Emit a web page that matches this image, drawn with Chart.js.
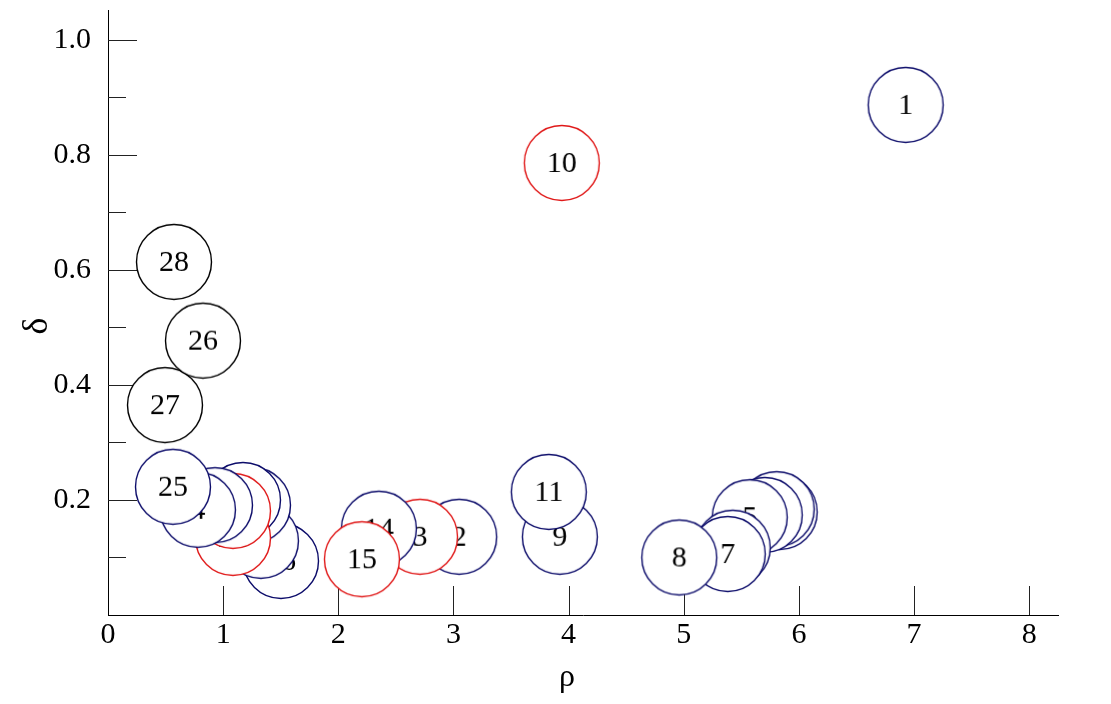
<!DOCTYPE html>
<html>
<head>
<meta charset="utf-8">
<script src="https://cdn.jsdelivr.net/npm/chart.js@4.4.1/dist/chart.umd.min.js"></script>
<style>
  html, body { margin: 0; padding: 0; background: #fff; }
</style>
</head>
<body>
<canvas id="chart" width="1111" height="704"></canvas>
<script>
// decision graph, one labelled circle per sample, listed in drawing order
var ids   = ['27', '26', '28', '10', '1', '16', '24', '6', '19', '20', '21', '22', '23', '4', '25',
             '2', '3', '14', '15', '9', '11', '12', '13', '18', '5', '17', '7', '8'];
var rho   = [0.495, 0.825, 0.573, 3.941, 6.927, 1.502, 1.25, 1.328, 1.259, 1.172, 1.085, 1.085, 0.929, 0.781, 0.564,
             3.05, 2.71, 2.352, 2.205, 3.924, 3.828, 5.833, 5.807, 5.703, 5.573, 5.425, 5.382, 4.961];
var delta = [0.365, 0.477, 0.614, 0.786, 0.887, 0.094, 0.19, 0.129, 0.191, 0.200, 0.134, 0.181, 0.191, 0.183, 0.223,
             0.136, 0.136, 0.150, 0.097, 0.136, 0.214, 0.179, 0.184, 0.174, 0.170, 0.117, 0.106, 0.100];
// k = unassigned, r = centre, b = member
var kind  = ['k', 'k', 'k', 'r', 'b', 'b', 'b', 'b', 'b', 'b', 'r', 'r', 'b', 'b', 'b',
             'b', 'r', 'b', 'r', 'b', 'b', 'b', 'b', 'b', 'b', 'b', 'b', 'b'];

var xTicks = [1, 2, 3, 4, 5, 6, 7, 8];
var yMajor = [0.2, 0.4, 0.6, 0.8, 1.0];
var yMinor = [0.1, 0.3, 0.5, 0.7, 0.9];

var ringColor = { k: '#000000', r: '#e01818', b: '#0c0c6a' };
var serif = 'Liberation Serif';

// each point is drawn as a small canvas: white disc, coloured ring, number
function bubble(label, color) {
  var c = document.createElement('canvas');
  c.width = 80;
  c.height = 80;
  var g = c.getContext('2d');
  g.beginPath();
  g.arc(40, 40, 37.5, 0, Math.PI * 2);
  g.fillStyle = '#fff';
  g.fill();
  g.lineWidth = 1.4;
  g.strokeStyle = color;
  g.stroke();
  g.fillStyle = '#000';
  g.font = '30px "' + serif + '"';
  g.textAlign = 'center';
  g.textBaseline = 'middle';
  g.fillText(label, 40, 41);
  return c;
}

var points = [];
var styles = [];
ids.forEach((id, i) => {
  points.push({ x: rho[i], y: delta[i] });
  styles.push(bubble(id, ringColor[kind[i]]));
});

// tick marks point into the plot, drawn under the circles
var innerTicks = {
  id: 'innerTicks',
  beforeDatasetsDraw: function(chart) {
    var ctx = chart.ctx;
    var x = chart.scales.x, y = chart.scales.y, area = chart.chartArea;
    ctx.save();
    ctx.strokeStyle = '#222';
    ctx.lineWidth = 1;
    ctx.beginPath();
    xTicks.forEach(v => {
      var px = Math.round(x.getPixelForValue(v)) + 0.5;
      ctx.moveTo(px, area.bottom);
      ctx.lineTo(px, area.bottom - 29);
    });
    yMajor.forEach(v => {
      var py = Math.round(y.getPixelForValue(v)) + 0.5;
      ctx.moveTo(area.left, py);
      ctx.lineTo(area.left + 29, py);
    });
    yMinor.forEach(v => {
      var py = Math.round(y.getPixelForValue(v)) + 0.5;
      ctx.moveTo(area.left, py);
      ctx.lineTo(area.left + 18, py);
    });
    ctx.stroke();
    ctx.restore();
  }
};

new Chart(document.getElementById('chart'), {
  type: 'scatter',
  data: {
    datasets: [{
      data: points,
      pointStyle: styles,
      pointRadius: 38,
      pointHoverRadius: 38,
      clip: false
    }]
  },
  options: {
    responsive: false,
    devicePixelRatio: 1,
    animation: false,
    events: [],
    layout: { autoPadding: false, padding: { top: 10, right: 53, left: 0, bottom: 0 } },
    plugins: {
      legend: { display: false },
      tooltip: { enabled: false }
    },
    scales: {
      x: {
        type: 'linear',
        min: 0,
        max: 8.25,
        afterFit: function(scale) {
          scale.height = 89;
          scale.paddingLeft = 0;
          scale.paddingRight = 0;
        },
        grid: { display: false, drawTicks: false },
        border: { display: true, color: '#000', width: 1 },
        ticks: {
          stepSize: 1,
          includeBounds: false,
          padding: 2,
          color: '#000',
          maxRotation: 0,
          font: { family: serif, size: 30 },
          callback: v => String(v)
        },
        title: {
          display: true,
          text: 'ρ    ',
          color: '#000',
          font: { family: serif, size: 32 },
          padding: { top: 0, bottom: 7 }
        }
      },
      y: {
        type: 'linear',
        min: 0,
        max: 1.052,
        afterFit: function(scale) {
          scale.width = 108;
          scale.paddingTop = 0;
          scale.paddingBottom = 0;
        },
        grid: { display: false, drawTicks: false },
        border: { display: true, color: '#000', width: 1 },
        ticks: {
          stepSize: 0.2,
          includeBounds: false,
          padding: 17,
          color: '#000',
          font: { family: serif, size: 30 },
          callback: v => (Math.abs(v) < 1e-9 ? '' : v.toFixed(1))
        },
        title: {
          display: true,
          text: 'δ   ',
          color: '#000',
          font: { family: serif, size: 36 },
          padding: { top: 16, bottom: 0 }
        }
      }
    }
  },
  plugins: [innerTicks]
});
</script>
</body>
</html>
